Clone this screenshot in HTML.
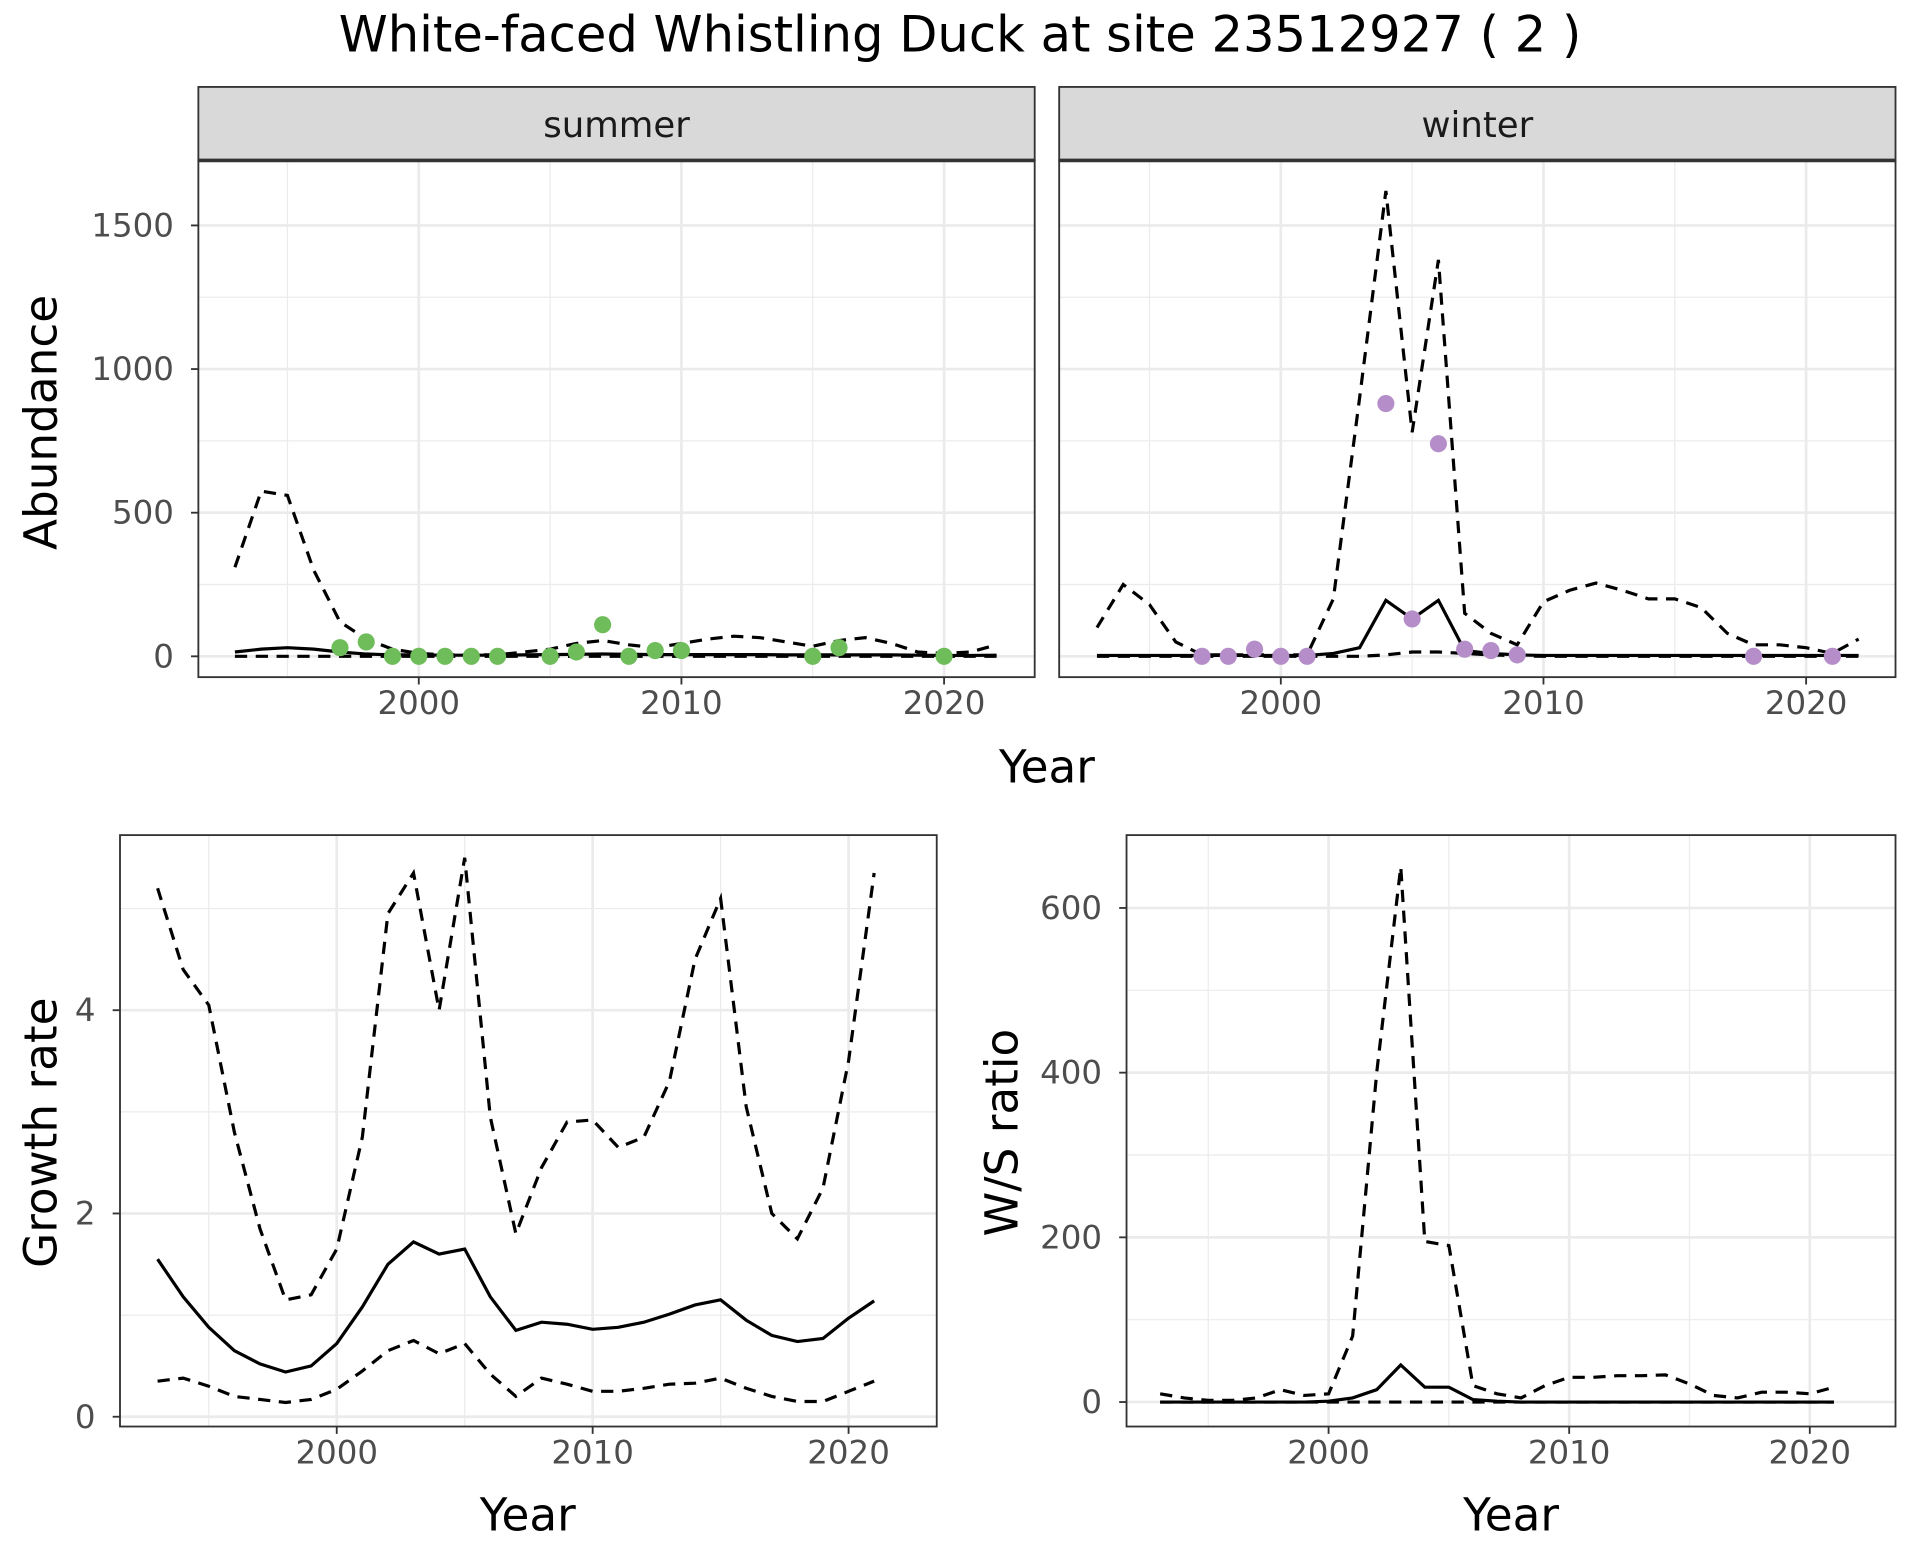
<!DOCTYPE html>
<html><head><meta charset="utf-8"><style>
html,body{margin:0;padding:0;background:#fff}
svg{display:block}
text{font-family:"DejaVu Sans","Liberation Sans",sans-serif}
</style></head><body>
<svg id="c" width="1920" height="1560" viewBox="0 0 1568 1274" xmlns="http://www.w3.org/2000/svg">
<text x="784" y="42" text-anchor="middle" font-size="40.5" fill="#000">White-faced Whistling Duck at site 23512927 ( 2 )</text>
</svg>
<script>
const sYears=[1993,1994,1995,1996,1997,1998,1999,2000,2001,2002,2003,2004,2005,2006,2007,2008,2009,2010,2011,2012,2013,2014,2015,2016,2017,2018,2019,2020,2021,2022];
const sUpper=[310,575,560,300,120,60,25,10,5,5,5,15,25,45,55,40,30,45,60,70,65,50,35,55,65,45,15,10,15,40];
const sMed=[15,25,30,25,15,8,5,5,4,4,4,5,6,7,8,7,6,6,6,6,6,5,5,5,5,5,4,3,3,4];
const sLower=[0,0,0,0,0,0,0,0,0,0,0,0,0,0,0,0,0,0,0,0,0,0,0,0,0,0,0,0,0,0];
const sPtYears=[1997,1998,1999,2000,2001,2002,2003,2005,2006,2007,2008,2009,2010,2015,2016,2020];
const sPtVals=[30,50,0,0,0,0,0,0,15,110,0,20,20,0,30,0];
const wUpper=[100,250,180,50,5,5,5,5,5,200,900,1620,780,1380,150,80,40,190,230,255,230,200,200,170,80,40,40,30,10,60];
const wMed=[3,3,3,3,3,3,3,3,3,10,30,195,130,195,20,10,5,3,3,3,3,3,3,3,3,3,3,3,3,3];
const wLower=[0,0,0,0,0,0,0,0,0,0,0,5,15,15,10,5,2,0,0,0,0,0,0,0,0,0,0,0,0,0];
const wPtYears=[1997,1998,1999,2000,2001,2004,2005,2006,2007,2008,2009,2018,2021];
const wPtVals=[0,0,25,0,0,880,130,740,25,20,5,0,0];
const gYears=[1993,1994,1995,1996,1997,1998,1999,2000,2001,2002,2003,2004,2005,2006,2007,2008,2009,2010,2011,2012,2013,2014,2015,2016,2017,2018,2019,2020,2021];
const gMed=[1.55,1.18,0.88,0.65,0.52,0.44,0.5,0.72,1.08,1.5,1.72,1.6,1.65,1.18,0.85,0.93,0.91,0.86,0.88,0.93,1.01,1.1,1.15,0.95,0.8,0.74,0.77,0.97,1.14];
const gUpper=[5.2,4.4,4.05,2.8,1.85,1.15,1.2,1.65,2.75,4.95,5.35,4.0,5.5,2.95,1.8,2.45,2.9,2.92,2.65,2.75,3.3,4.5,5.1,3.05,2.0,1.75,2.25,3.5,5.35];
const gLower=[0.35,0.38,0.3,0.2,0.17,0.14,0.17,0.27,0.45,0.65,0.75,0.62,0.72,0.42,0.2,0.38,0.32,0.25,0.25,0.28,0.32,0.33,0.38,0.28,0.2,0.15,0.15,0.25,0.35];
const rUpper=[10,5,2,2,5,15,8,10,80,400,650,195,190,20,10,5,20,30,30,32,32,33,22,8,5,12,12,10,18];
const rMed=[0,0,0,0,0,0,0,1,5,15,45,18,18,3,1,0,0,0,0,0,0,0,0,0,0,0,0,0,0];
const rLower=[0,0,0,0,0,0,0,0,0,0,0,0,0,0,0,0,0,0,0,0,0,0,0,0,0,0,0,0,0];
const xTicks=[2000,2010,2020];
const abTicks=[0,500,1000,1500];
const gTicks=[0,2,4];
const rTicks=[0,200,400,600];

const svg=document.getElementById('c');
const NS='http://www.w3.org/2000/svg';
function el(tag,attrs,parent){const e=document.createElementNS(NS,tag);for(const k in attrs)e.setAttribute(k,attrs[k]);(parent||svg).appendChild(e);return e;}
function txt(x,y,s,size,fill,anchor,rot){const t=el('text',{x:x,y:y,'font-size':size,fill:fill,'text-anchor':anchor||'middle'});if(rot)t.setAttribute('transform','rotate(-90 '+x+' '+y+')');t.textContent=s;return t;}

function panel(o){
  const g=el('g',{});
  
  
  const X=v=>o.x0+(v-o.xv0)*o.xs;
  const Y=v=>o.y0-(v-o.yv0)*o.ys;
  const minX=[];for(let i=0;i<xTicks.length;i++){minX.push(xTicks[i]-5);}minX.push(xTicks[xTicks.length-1]+5);
  minX.forEach(v=>{const px=X(v);if(px>o.L&&px<o.R)el('line',{x1:px,x2:px,y1:o.T,y2:o.B,stroke:'#ebebeb','stroke-width':1},g);});
  for(let i=0;i<o.yt.length;i++){const v=i+1<o.yt.length?(o.yt[i]+o.yt[i+1])/2:o.yt[i]+(o.yt[1]-o.yt[0])/2;const py=Y(v);if(py>o.T&&py<o.B)el('line',{x1:o.L,x2:o.R,y1:py,y2:py,stroke:'#ebebeb','stroke-width':1},g);}
  xTicks.forEach(v=>{el('line',{x1:X(v),x2:X(v),y1:o.T,y2:o.B,stroke:'#ebebeb','stroke-width':2.2},g);});
  o.yt.forEach(v=>{el('line',{x1:o.L,x2:o.R,y1:Y(v),y2:Y(v),stroke:'#ebebeb','stroke-width':2.2},g);});
  const lines=[[o.up,'10,7'],[o.lo,'10,7'],[o.med,null]];
  lines.forEach(([arr,dash])=>{
    const p=el('polyline',{points:arr.map((v,i)=>X(o.years[i])+','+Y(v)).join(' '),fill:'none',stroke:'#000','stroke-width':2.6},g);
    if(dash)p.setAttribute('stroke-dasharray',dash);
    
    
  });
  if(o.px){o.px.forEach((yr,i)=>{const c=el('circle',{cx:X(yr),cy:Y(o.pv[i]),r:7,fill:o.pc},g);
    
    });}
  el('rect',{x:o.L,y:o.T,width:o.R-o.L,height:o.B-o.T,fill:'none',stroke:'#333','stroke-width':1.5},g);
  xTicks.forEach(v=>{el('line',{x1:X(v),x2:X(v),y1:o.B,y2:o.B+6,stroke:'#333','stroke-width':1.5},g);txt(X(v),o.B+30,String(v),26.5,'#4d4d4d');});
  if(o.showY)o.yt.forEach(v=>{el('line',{x1:o.L-6,x2:o.L,y1:Y(v),y2:Y(v),stroke:'#333','stroke-width':1.5},g);txt(o.L-20,Y(v)+9,String(v),26.5,'#4d4d4d','end');});
  if(o.strip){el('rect',{x:o.L,y:71,width:o.R-o.L,height:60,fill:'#d9d9d9',stroke:'#333','stroke-width':1.5},g);
    el('line',{x1:o.L,x2:o.R,y1:131,y2:131,stroke:'#333','stroke-width':3},g);
    txt((o.L+o.R)/2,112,o.strip,29,'#1a1a1a');}
}
panel({name:'summer-panel',L:162,R:845,T:131,B:553,x0:342,xv0:2000,xs:21.45,y0:536,yv0:0,ys:117.3/500,yt:abTicks,years:sYears,up:sUpper,med:sMed,lo:sLower,px:sPtYears,pv:sPtVals,pc:'#6ebd5a',showY:true,strip:'summer'});
panel({name:'winter-panel',L:865,R:1548,T:131,B:553,x0:1046,xv0:2000,xs:21.45,y0:536,yv0:0,ys:117.3/500,yt:abTicks,years:sYears,up:wUpper,med:wMed,lo:wLower,px:wPtYears,pv:wPtVals,pc:'#b58ec9',showY:false,strip:'winter'});
panel({name:'growth-panel',L:98,R:765,T:682,B:1165,x0:275,xv0:2000,xs:20.9,y0:1157,yv0:0,ys:83,yt:gTicks,years:gYears,up:gUpper,med:gMed,lo:gLower,showY:true});
panel({name:'ratio-panel',L:920,R:1548,T:682,B:1165,x0:1085,xv0:2000,xs:19.65,y0:1145,yv0:0,ys:0.6725,yt:rTicks,years:gYears,up:rUpper,med:rMed,lo:rLower,showY:true});
let t;
t=txt(855,639,'Year',37,'#000');
t=txt(46,345,'Abundance',37,'#000','middle',true);
t=txt(431,1250,'Year',37,'#000');
t=txt(46,925,'Growth rate',37,'#000','middle',true);
t=txt(1234,1250,'Year',37,'#000');
t=txt(831,925,'W/S ratio',37,'#000','middle',true);
</script>
</body></html>
